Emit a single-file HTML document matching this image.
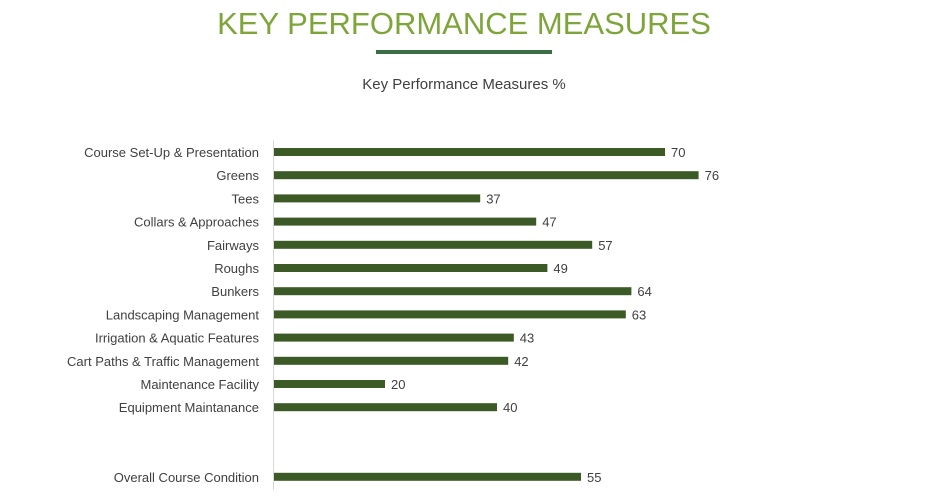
<!DOCTYPE html>
<html><head><meta charset="utf-8"><style>
body{margin:0;width:946px;height:499px;background:#fff;overflow:hidden;font-family:"Liberation Sans",sans-serif;}
svg{display:block}
</style></head><body>
<svg width="946" height="499">
<text x="464" y="34" text-anchor="middle" font-size="31" fill="#7da53a">KEY PERFORMANCE MEASURES</text>
<rect x="376" y="50" width="176" height="4" fill="#3b6e47"/>
<text x="464" y="89" text-anchor="middle" font-size="15" fill="#404040">Key Performance Measures %</text>
<line x1="273.5" y1="140" x2="273.5" y2="490" stroke="#d9d9d9"/>
<g id="bars"></g>
</svg>
<script>
const categories=["Course Set-Up & Presentation","Greens","Tees","Collars & Approaches","Fairways","Roughs","Bunkers","Landscaping Management","Irrigation & Aquatic Features","Cart Paths & Traffic Management","Maintenance Facility","Equipment Maintanance","","","Overall Course Condition"];
const values=[70,76,37,47,57,49,64,63,43,42,20,40,null,null,55];
const x0=273,k=5.6,y0=152,step=23.2;
const xs=v=>x0+v*k, ys=i=>y0+i*step;
const g=document.getElementById('bars');
const NS="http://www.w3.org/2000/svg";
categories.forEach((c,i)=>{
  if(!c) return;
  const y=ys(i);
  const t=document.createElementNS(NS,'text');
  
  
  t.setAttribute('x',259);t.setAttribute('y',y+5);t.setAttribute('text-anchor','end');
  t.setAttribute('font-size','13');t.setAttribute('fill','#404040');t.textContent=c;g.appendChild(t);
  const r=document.createElementNS(NS,'rect');
  
  
  r.setAttribute('x',x0+1);r.setAttribute('y',y-4);r.setAttribute('width',xs(values[i])-x0-1);r.setAttribute('height',8);r.setAttribute('fill','#3b5a25');g.appendChild(r);
  const v=document.createElementNS(NS,'text');
  
  
  v.setAttribute('x',xs(values[i])+6);v.setAttribute('y',y+5);v.setAttribute('font-size','13');v.setAttribute('fill','#404040');v.textContent=values[i];g.appendChild(v);
});
</script>
</body></html>
